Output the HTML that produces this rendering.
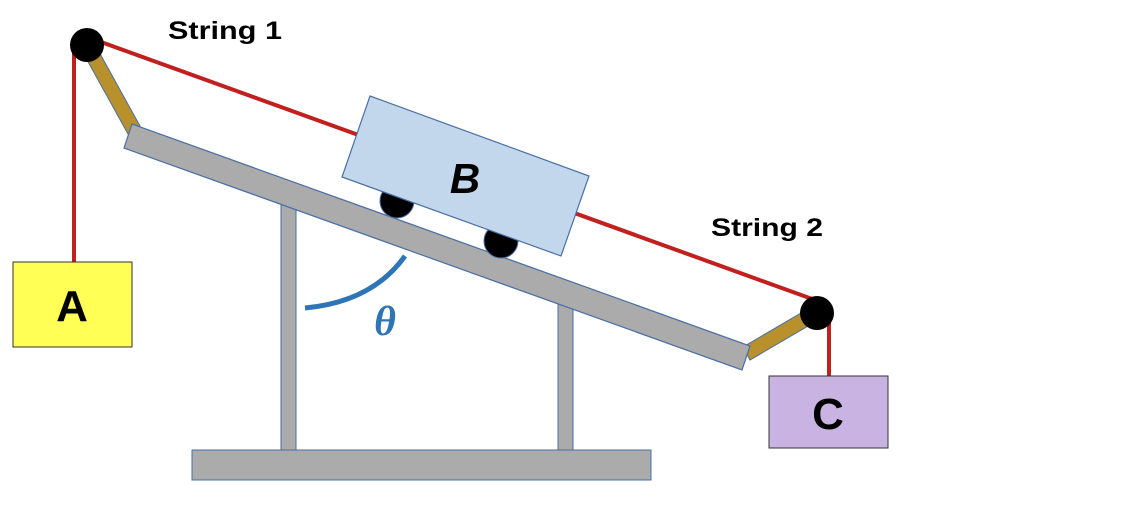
<!DOCTYPE html>
<html><head><style>body{margin:0;background:#fff}svg{display:block}</style></head>
<body>
<svg width="1136" height="518" viewBox="0 0 1136 518" xmlns="http://www.w3.org/2000/svg">
<rect width="1136" height="518" fill="#fff"/>
<line x1="90" y1="38" x2="815" y2="300" stroke="#C0201E" stroke-width="4"/>
<line x1="74" y1="45" x2="74" y2="263" stroke="#C0201E" stroke-width="4"/>
<line x1="829" y1="313" x2="829" y2="377" stroke="#C0201E" stroke-width="4"/>
<polygon points="81,49 93,41 140,126 128,134" fill="#B8902C" stroke="#4A6FA5" stroke-width="1"/>
<polygon points="813,306 820,319 750,360 743,347" fill="#B8902C" stroke="#4A6FA5" stroke-width="1"/>
<rect x="281" y="200" width="15" height="251" fill="#ABABAB" stroke="#4A6FA5" stroke-width="1"/>
<rect x="558" y="300" width="15" height="151" fill="#ABABAB" stroke="#4A6FA5" stroke-width="1"/>
<rect x="192" y="450" width="459" height="30" fill="#ABABAB" stroke="#4A6FA5" stroke-width="1"/>
<polygon points="132,124 750,346 742,370 124,148" fill="#ABABAB" stroke="#4A6FA5" stroke-width="1.2"/>
<circle cx="87" cy="45" r="17" fill="#000"/>
<circle cx="817" cy="313" r="17" fill="#000"/>
<circle cx="397" cy="201" r="17" fill="#000" stroke="#4A6FA5" stroke-width="1"/>
<circle cx="501" cy="241" r="17" fill="#000" stroke="#4A6FA5" stroke-width="1"/>
<polygon points="370,96 589,176 561,256 342,177" fill="#C2D7EC" stroke="#4A6FA5" stroke-width="1.2"/>
<text x="465" y="193" font-family="Liberation Sans, sans-serif" font-weight="bold" font-style="italic" font-size="42" text-anchor="middle">B</text>
<path d="M305,308 Q372,302 405,256" fill="none" stroke="#2E75B6" stroke-width="5"/>
<text x="385" y="335" font-family="Liberation Serif, serif" font-weight="bold" font-style="italic" font-size="42" fill="#2E75B6" text-anchor="middle">θ</text>
<rect x="13" y="262" width="119" height="85" fill="#FFFF55" stroke="#333" stroke-width="1"/>
<text x="72" y="321" font-family="Liberation Sans, sans-serif" font-weight="bold" font-size="44" text-anchor="middle">A</text>
<rect x="769" y="376" width="119" height="72" fill="#C9B3E3" stroke="#333" stroke-width="1"/>
<text x="828" y="429" font-family="Liberation Sans, sans-serif" font-weight="bold" font-size="44" text-anchor="middle">C</text>
<text x="168" y="39" font-family="Liberation Sans, sans-serif" font-weight="bold" font-size="25" textLength="114" lengthAdjust="spacingAndGlyphs">String 1</text>
<text x="711" y="236" font-family="Liberation Sans, sans-serif" font-weight="bold" font-size="25" textLength="112" lengthAdjust="spacingAndGlyphs">String 2</text>
</svg>
</body></html>
